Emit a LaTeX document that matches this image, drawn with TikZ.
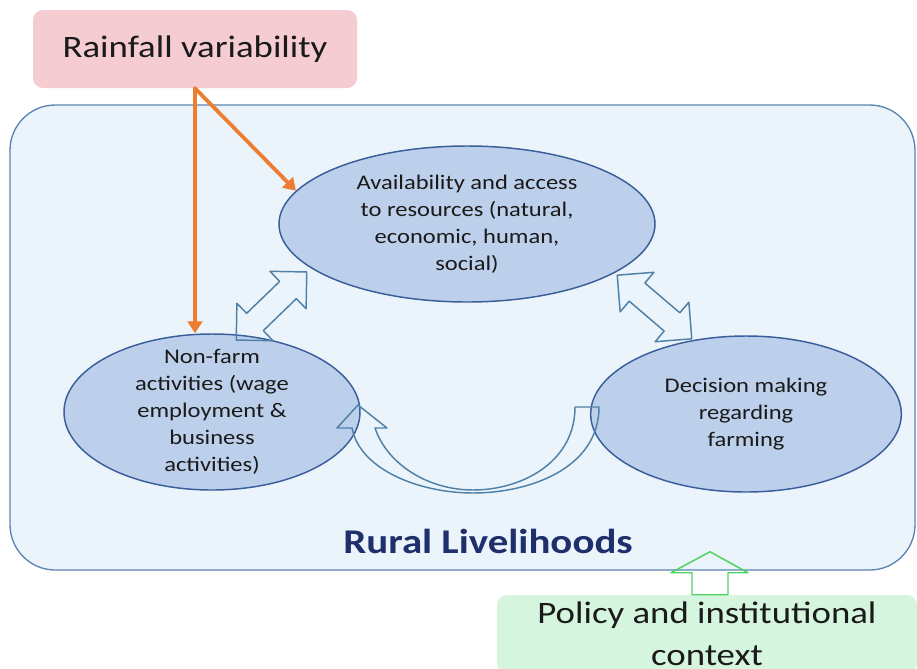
\documentclass[tikz,border=0pt]{standalone}
\usepackage{fontspec}
\setmainfont{Carlito}[FakeStretch=1.18]
\usetikzlibrary{arrows.meta,shapes.geometric}
\definecolor{panelfill}{HTML}{EBF4FA}
\definecolor{panelline}{HTML}{5B84B1}
\definecolor{ellfill}{HTML}{BDD0EB}
\definecolor{ellline}{HTML}{3A5E9C}
\definecolor{blockline}{HTML}{4F81A8}
\definecolor{rainorange}{HTML}{ED7D31}
\definecolor{rainpink}{HTML}{F4CCD2}
\definecolor{policygreen}{HTML}{D6F5DF}
\definecolor{arrowgreen}{HTML}{4CD460}
\definecolor{ruralnavy}{HTML}{1F2F6B}
\definecolor{textgray}{HTML}{1A1A1A}
% two-headed block arrow, centre and angle
\newcommand{\twoway}[2]{\draw[block,shift={(#1)},rotate=#2] (-49,0) -- (-23,26) -- (-23,12) -- (23,12) -- (23,26) -- (49,0) -- (23,-26) -- (23,-12) -- (-23,-12) -- (-23,-26) -- cycle;}
\begin{document}
\begin{tikzpicture}[line cap=round,line join=round,x=0.75pt,y=-0.75pt,
	bubble/.style={ellipse,draw=ellline,fill=ellfill,line width=1.1pt,inner sep=0pt,minimum height=117pt},
	bubtext/.style={align=center,text=textgray,font=\fontsize{15.6}{20.3}\selectfont},
	label box/.style={rounded corners=7.5pt,minimum height=58.5pt,align=center,text=textgray,font=\fontsize{23.4}{31.5}\selectfont},
	orangearrow/.style={draw=rainorange,line width=2.8pt,-{Triangle[length=9pt,width=11pt]}},
	block/.style={draw=blockline,line width=1.1pt}]
	\clip (0,0) rectangle (917,668);
	\fill[white] (0,0) rectangle (917,668);
	\draw[fill=panelfill,draw=panelline,line width=1pt,rounded corners=34pt] (10,105) rectangle (915,570);
	\node[label box,fill=rainpink,minimum width=243pt] (rain) at (195,49) {Rainfall variability};
	\node[label box,fill=policygreen,minimum width=315pt] (policy) at (707,634) {Policy and institutional\\context};
	\node[bubble,minimum width=282pt] (avail) at (467,224) {};
	\node[bubble,minimum width=222pt] (nonfarm) at (212,412) {};
	\node[bubble,minimum width=233pt] (decision) at (746,414) {};
	\node[bubtext] (availtext) at (avail) {Availability and access\\to resources (natural,\\economic, human,\\social)};
	\node[bubtext] (nonfarmtext) at (nonfarm) {Non-farm\\activities (wage\\employment \&\\business\\activities)};
	\node[bubtext] (decisiontext) at (decision) {Decision making\\regarding\\farming};
	\node[font=\bfseries\fontsize{26}{30}\selectfont,text=ruralnavy] (rural) at (488,541) {Rural Livelihoods};
	\twoway{271.5,306}{44}
	\twoway{654.5,307}{-40.5}
	\draw[block] (575,407) -- (599,407) .. controls (599,468) and (530,493) .. (473,493) .. controls (420,493) and (360,470) .. (352,428) -- (337,428) -- (358,405) -- (387,428) -- (375,428) .. controls (388,466) and (430,490) .. (473,490) .. controls (522,490) and (575,462) .. (575,407) -- cycle;
	\draw[draw=arrowgreen,line width=1.1pt,shift={(policy.north)}] (-15,0) -- (-15,-22) -- (-36,-22) -- (3,-43) -- (41,-22) -- (21,-22) -- (21,0) -- cycle;
	\draw[orangearrow] (rain.south) -- (rain.south |- nonfarm.north);
	\draw[orangearrow] (rain.south) -- (avail.169);
\end{tikzpicture}
\end{document}
